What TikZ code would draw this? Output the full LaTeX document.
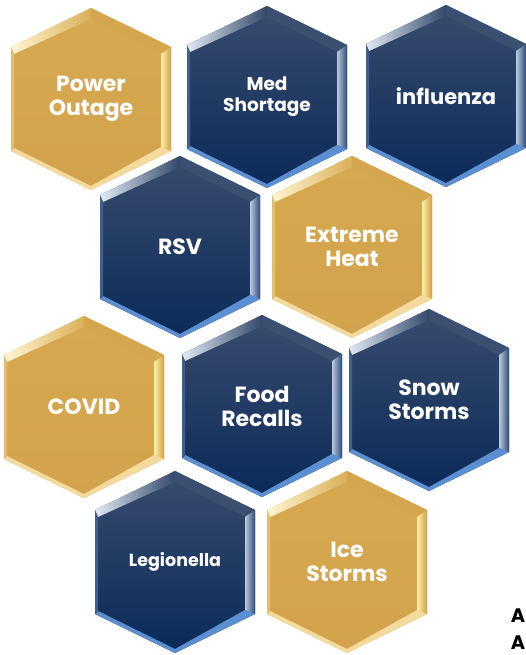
\documentclass[tikz,border=0pt]{standalone}
\usepackage{fontspec}
\newfontfamily\hexfont{Poppins}
\begin{document}
\begin{tikzpicture}[x=1pt,y=-1pt,
  hextext/.style={text=white,align=center,inner sep=0pt},
  goldbase/.style={top color=gold1,bottom color=gold2},
  navybase/.style={top color=navy1,bottom color=navy2},
  goldTL/.style={left color=gTLa,right color=gTLb},
  navyTL/.style={left color=nTLa,right color=nTLb},
  goldTR/.style={fill=gTR},
  navyTR/.style={fill=nTR},
  goldR/.style={left color=gRa,right color=gRb},
  navyR/.style={left color=nRa,right color=nRb},
  goldB/.style={fill=gB},
  navyB/.style={fill=nB},
  goldL/.style={fill=gL},
  navyL/.style={fill=nL},
  corner/.style={font=\hexfont\bfseries\fontsize{19.5}{22}\selectfont,text=black,inner sep=0pt,anchor=base east}
]
\definecolor{gold1}{HTML}{D6A950}
\definecolor{gold2}{HTML}{D2A34C}
\definecolor{navy1}{HTML}{394C6D}
\definecolor{navy2}{HTML}{0A2A59}
\definecolor{gTLa}{HTML}{FFF6D2}
\definecolor{gTLb}{HTML}{DAB058}
\definecolor{nTLa}{HTML}{E2EAF4}
\definecolor{nTLb}{HTML}{33486A}
\definecolor{gTR}{HTML}{D4A64E}
\definecolor{nTR}{HTML}{3B4F70}
\definecolor{gRa}{HTML}{FFF0A6}
\definecolor{gRb}{HTML}{CF9F48}
\definecolor{nRa}{HTML}{B9CADF}
\definecolor{nRb}{HTML}{2C4A76}
\definecolor{gB}{HTML}{F4DA9C}
\definecolor{nB}{HTML}{5C8FD1}
\definecolor{gL}{HTML}{E4BE6A}
\definecolor{nL}{HTML}{3F608E}
\newcommand\hexcell[7]{%
\begin{scope}[shift={(#2,#3)}]
  \shade[#4base] (0,-91) -- (80,-52) -- (80,52) -- (0,91) -- (-80,52) -- (-80,-52) -- cycle;
  \shade[#4TL] (-80,-52) -- (0,-91) -- (0,-80) -- (-77,-45) -- cycle;
  \fill[#4TR] (0,-91) -- (80,-52) -- (70,-45) -- (0,-80) -- cycle;
  \shade[#4R] (80,-52) -- (80,52) -- (70,48) -- (70,-45) -- cycle;
  \fill[#4B] (80,52) -- (0,91) -- (0,87) -- (70,48) -- cycle;
  \fill[#4B] (0,91) -- (-80,52) -- (-77,49) -- (0,87) -- cycle;
  \fill[#4L] (-80,52) -- (-80,-52) -- (-77,-45) -- (-77,49) -- cycle;
  \node[hextext,font=\hexfont\bfseries\fontsize{#5}{#6}\selectfont] (#1) at (0,0) {#7};
\end{scope}}
\useasboundingbox (0,0) rectangle (526,655);
\hexcell{power}{91}{99}{gold}{22}{24}{Power\\Outage}
\hexcell{med}{267}{97}{navy}{18.5}{21}{Med\\Shortage}
\hexcell{flu}{446}{96}{navy}{21}{24}{influenza}
\hexcell{rsv}{180}{247}{navy}{22}{24}{RSV}
\hexcell{heat}{352}{247}{gold}{22}{24}{Extreme\\Heat}
\hexcell{covid}{84}{407}{gold}{22}{24}{COVID}
\hexcell{food}{262}{406}{navy}{22}{24}{Food\\Recalls}
\hexcell{snow}{429}{400}{navy}{22}{24}{Snow\\Storms}
\hexcell{legion}{175}{562}{navy}{17.5}{24}{Legionella}
\hexcell{ice}{347}{562}{gold}{22}{24}{Ice\\Storms}
\node[corner] (a1) at (525.5,622) {A};
\node[corner] (a2) at (525.5,649) {A};
\end{tikzpicture}
\end{document}
